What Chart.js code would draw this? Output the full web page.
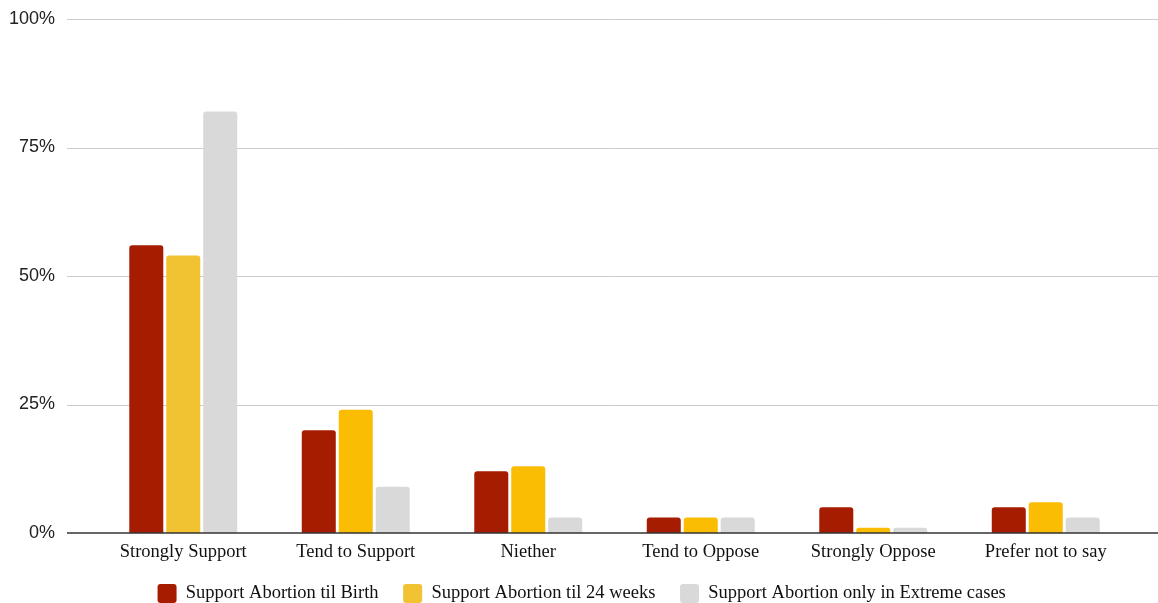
<!DOCTYPE html>
<html>
<head>
<meta charset="utf-8">
<script src="https://cdn.jsdelivr.net/npm/chart.js@4.4.1/dist/chart.umd.min.js"></script>
<style>
  html, body { margin: 0; padding: 0; background: #fff; }
  #wrap { width: 1158px; height: 603px; position: relative; }
</style>
</head>
<body>
<div id="wrap"><canvas id="chart"></canvas></div>
<script>
// Survey answers per category (percent)
const categories = ['Strongly Support', 'Tend to Support', 'Niether', 'Tend to Oppose', 'Strongly Oppose', 'Prefer not to say'];
const tilBirth = [56, 20, 12, 3, 5, 5];
const til24Weeks = [54, 24, 13, 3, 1, 6];
const extremeOnly = [82, 9, 3, 3, 1, 3];
const yTicks = [0, 25, 50, 75, 100];

const serif = '"Liberation Serif", "Times New Roman", serif';
const sans = '"Liberation Sans", Arial, sans-serif';

const barStyle = {
  borderWidth: 0,
  borderRadius: 3,
  barPercentage: 0.92,
  categoryPercentage: 0.643,
};

// gridlines in the original run wider than the category band, so draw them here
const wideGrid = {
  id: 'wideGrid',
  beforeDatasetsDraw(chart) {
    const { ctx, scales: { y } } = chart;
    ctx.save();
    ctx.strokeStyle = '#cccccc';
    ctx.lineWidth = 1;
    yTicks.filter(v => v > 0).forEach(v => {
      const py = Math.round(y.getPixelForValue(v)) + 0.5;
      ctx.beginPath();
      ctx.moveTo(67, py);
      ctx.lineTo(1158, py);
      ctx.stroke();
    });
    ctx.restore();
  },
  afterDatasetsDraw(chart) {
    const { ctx, scales: { y } } = chart;
    const py = y.getPixelForValue(0);
    ctx.save();
    ctx.strokeStyle = '#333333';
    ctx.lineWidth = 1.5;
    ctx.beginPath();
    ctx.moveTo(67, py);
    ctx.lineTo(1158, py);
    ctx.stroke();
    ctx.restore();
  }
};

const legendLabels = chart =>
  Chart.defaults.plugins.legend.labels.generateLabels(chart).map(l => ({ ...l, text: l.text + ' ' }));

new Chart(document.getElementById('chart'), {
  type: 'bar',
  data: {
    labels: categories,
    datasets: [
      { label: 'Support Abortion til Birth', data: tilBirth, backgroundColor: '#a61c00', ...barStyle },
      {
        label: 'Support Abortion til 24 weeks',
        data: til24Weeks,
        // first bar was a lighter yellow in the original
        backgroundColor: til24Weeks.map((v, i) => i === 0 ? '#f1c232' : '#fbbc04'),
        ...barStyle
      },
      { label: 'Support Abortion only in Extreme cases', data: extremeOnly, backgroundColor: '#d9d9d9', ...barStyle },
    ]
  },
  options: {
    responsive: true,
    maintainAspectRatio: false,
    animation: false,
    layout: { padding: { top: 19, right: 0, left: 10, bottom: 0 } },
    scales: {
      x: {
        afterFit: axis => { axis.height = 31; },
        grid: { display: false, drawTicks: false },
        border: { display: false },
        ticks: { color: '#111', font: { family: serif, size: 18.5 }, padding: 8 },
      },
      y: {
        min: 0,
        max: 100,
        afterBuildTicks: axis => { axis.ticks = yTicks.map(v => ({ value: v })); },
        afterFit: axis => { axis.width = 87; axis.paddingTop = 0; axis.paddingBottom = 0; },
        grid: { display: false, drawTicks: false },
        border: { display: false },
        ticks: {
          color: '#222',
          font: { family: sans, size: 18 },
          padding: 42,
          callback: v => v + '%',
        },
      },
      // empty spacer on the right so the bars end where the original's do
      y2: {
        position: 'right',
        afterFit: axis => { axis.width = 26; axis.paddingTop = 0; axis.paddingBottom = 0; },
        grid: { display: false, drawTicks: false },
        border: { display: false },
        ticks: { display: false },
      }
    },
    plugins: {
      legend: {
        position: 'bottom',
        maxHeight: 39,
        labels: {
          color: '#111',
          font: { family: serif, size: 18.5 },
          boxWidth: 19,
          boxHeight: 19,
          useBorderRadius: true,
          borderRadius: 3,
          padding: 20,
          generateLabels: legendLabels,
        }
      },
      tooltip: { enabled: false }
    }
  },
  plugins: [wideGrid]
});
</script>
</body>
</html>
